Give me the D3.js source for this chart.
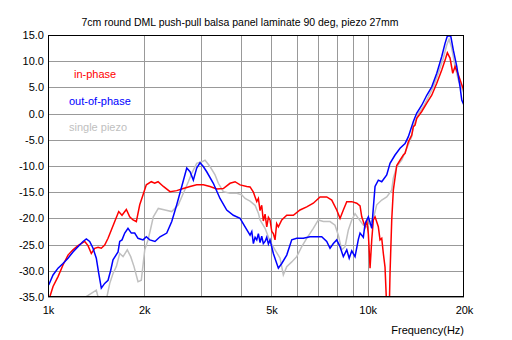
<!DOCTYPE html>
<html><head><meta charset="utf-8">
<script src="https://cdn.jsdelivr.net/npm/d3@7"></script>
<style>body{margin:0;background:#fff}svg{display:block}text{font-family:Arial,"Liberation Sans",sans-serif;}</style>
</head><body><svg id="c" width="512" height="340"></svg>
<script>
const title = "7cm round DML push-pull balsa panel laminate 90 deg, piezo 27mm";
const xTickValues = [1000, 2000, 5000, 10000, 20000];
const xTickLabels = ["1k", "2k", "5k", "10k", "20k"];
const xGridValues = [2000, 3000, 4000, 5000, 6000, 7000, 8000, 9000, 10000];
const yTickValues = [15, 10, 5, 0, -5, -10, -15, -20, -25, -30, -35];
const xLabel = "Frequency(Hz)";
const seriesNames = ["in-phase", "out-of-phase", "single piezo"];

const inPhaseFreq = [1014,1037,1075,1114,1155,1197,1241,1303,1334,1366,1400,1434,1468,1504,1541,1578,1617,1664,1704,1758,1801,1845,1889,1936,1983,2030,2104,2156,2209,2295,2408,2527,2650,2781,2918,3060,3211,3371,3534,3710,3846,3988,4184,4285,4389,4443,4497,4549,4605,4660,4715,4774,4832,4890,4948,5010,5067,5129,5190,5253,5383,5580,5852,6140,6444,6757,7092,7442,7716,7998,8191,8388,8597,8912,9239,9461,9577,9808,9929,10044,10116,10167,10292,10411,10539,10792,10925,11060,11188,11325,11464,11680,11740,11885,12023,12322,12618,12921,13082,13397,13728,13887,14060,14233,14754,15296,15855,16438,17039,17448,17740,18087,18444,18753,19204,19679,20000];
const inPhaseDb = [-34.9,-33.0,-31.1,-28.9,-27.0,-26.0,-25.2,-24.4,-25.2,-26.7,-25.7,-25.5,-25.7,-25.1,-23.8,-22.2,-20.6,-18.7,-19.4,-18.3,-19.7,-20.3,-20.6,-17.4,-15.5,-13.6,-13.0,-13.3,-13.0,-13.9,-14.9,-14.7,-14.3,-13.9,-13.6,-13.6,-13.9,-14.4,-14.3,-13.3,-13.0,-13.6,-13.9,-14.0,-15.0,-15.9,-16.8,-16.2,-18.5,-17.5,-20.5,-19.2,-21.6,-19.8,-20.3,-22.5,-22.9,-24.1,-21.0,-21.6,-20.3,-19.4,-19.4,-18.4,-17.8,-17.1,-15.9,-15.9,-16.5,-18.4,-20.0,-18.4,-16.8,-16.8,-17.1,-17.6,-19.7,-21.6,-20.3,-23.0,-26.7,-29.5,-24.1,-20.3,-19.7,-21.6,-24.1,-23.8,-26.7,-29.3,-37,-37,-30.5,-20.3,-14.6,-9.9,-8.9,-7.9,-7.6,-5.4,-4.1,-2.5,-2.2,-0.9,0.4,2.0,3.5,5.8,8.3,10.2,11.6,10.6,7.7,9.0,7.4,5.5,4.3];

const outPhaseFreq = [1005,1037,1075,1114,1155,1197,1241,1287,1318,1350,1383,1416,1441,1468,1504,1541,1571,1597,1656,1676,1704,1738,1779,1822,1867,1912,1983,2030,2081,2161,2240,2352,2438,2527,2620,2716,2781,2848,2918,2988,3060,3136,3289,3451,3622,3799,3988,4134,4285,4339,4389,4443,4497,4549,4605,4660,4715,4774,4832,4890,4948,5067,5253,5383,5580,5785,5996,6288,6598,6925,7179,7442,7622,7805,7998,8191,8388,8597,8750,8912,9126,9346,9461,9687,9808,10044,10292,10411,10539,10792,11060,11464,11740,12172,12618,13082,13397,13887,14233,14754,15296,15855,16438,17039,17448,17740,18178,18522,18984,19440,19679,20000];
const outPhaseDb = [-32.7,-30.8,-29.5,-28.6,-27.6,-26.4,-25.4,-24.4,-23.9,-24.4,-25.7,-27.6,-30.5,-33.3,-32.4,-31.8,-29.9,-27.9,-26.4,-24.4,-24.1,-22.8,-21.9,-22.8,-22.8,-23.8,-24.1,-23.5,-24.1,-24.4,-23.5,-22.8,-20.6,-17.4,-13.9,-10.4,-11.1,-12.7,-10.4,-9.4,-10.1,-11.1,-13.3,-16.2,-18.4,-19.4,-20.0,-21.6,-23.2,-22.5,-24.8,-23.6,-24.1,-22.9,-24.6,-23.4,-24.8,-24.4,-23.6,-24.9,-24.1,-26.7,-29.5,-28.6,-27.0,-24.1,-23.8,-23.8,-23.5,-23.5,-23.5,-24.4,-25.7,-24.8,-24.1,-25.4,-27.3,-26.0,-27.6,-26.2,-27.3,-24.0,-22.8,-23.6,-21.0,-19.7,-21.9,-18.0,-13.9,-12.7,-13.0,-11.7,-9.5,-7.9,-6.6,-5.7,-4.4,-1.5,0.1,1.6,3.5,5.1,7.7,10.9,13.4,14.8,14.8,12.1,9.0,5.1,2.6,1.6];

const singleFreq = [1300,1318,1366,1416,1441,1522,1560,1597,1636,1676,1717,1770,1814,1858,1912,1958,2007,2055,2085,2135,2213,2323,2438,2556,2650,2747,2815,2918,3025,3098,3211,3330,3410,3534,3710,3894,4037,4134,4285,4443,4549,4605,4774,4948,5129,5318,5445,5580,5785,5996,6216,6444,6757,7006,7262,7622,7901,8091,8292,8492,8697,8912,9126,9346,9687,9929,10167,10411,10668,11060,11464,11885,12023,12322,12773,13243,13728,13887,14398,14925,15473,16038,16628,17236,17662,17958,18309,18753,19204,19679,20000];
const singleDb = [-36,-34.9,-34.3,-33.7,-35.5,-35.5,-32.4,-30.5,-29.2,-26.7,-27.3,-26.0,-27.3,-29.2,-32.1,-31.8,-26.0,-24.1,-22.5,-19.7,-18.1,-18.4,-18.7,-17.4,-15.2,-13.0,-11.4,-9.5,-9.2,-8.9,-10.1,-11.7,-13.3,-14.9,-15.2,-15.2,-15.5,-16.2,-16.7,-17.5,-19.0,-20.3,-21.9,-24.4,-26.0,-27.6,-30.8,-29.2,-28.3,-27.3,-25.4,-23.8,-21.9,-20.3,-20.6,-20.6,-21.3,-23.2,-26.0,-25.4,-22.2,-20.3,-19.1,-20.0,-21.3,-21.6,-21.0,-20.0,-17.4,-16.5,-15.9,-14.6,-12.3,-10.1,-8.9,-6.6,-4.4,-2.5,0.0,1.3,3.2,5.1,7.7,10.6,13.1,14.2,12.5,9.0,6.4,4.8,3.9];

const svg = d3.select("#c");
const L = 48, R = 464, T = 35, B = 297;
const x = d3.scaleLog().domain([1000, 20000]).range([L, R]);
const y = d3.scaleLinear().domain([-35, 15]).range([B, T]);

// grid
const g = svg.append("g");
g.selectAll(".hg").data(yTickValues).join("line")
  .attr("x1", L).attr("x2", R).attr("y1", d => Math.round(y(d)) + 0.5).attr("y2", d => Math.round(y(d)) + 0.5)
  .attr("stroke", "#999").attr("stroke-width", 1);
g.selectAll(".vg").data(xGridValues).join("line")
  .attr("y1", T).attr("y2", B).attr("x1", d => Math.round(x(d)) + 0.5).attr("x2", d => Math.round(x(d)) + 0.5)
  .attr("stroke", "#999").attr("stroke-width", 1);

// clip
svg.append("clipPath").attr("id", "clip").append("rect").attr("x", L).attr("y", T).attr("width", R - L).attr("height", B - T);

const line = d3.line().x(d => x(d[0])).y(d => y(d[1]));
const series = [
  {f: singleFreq, v: singleDb, color: "#c0c0c0"},
  {f: inPhaseFreq, v: inPhaseDb, color: "#ff0000"},
  {f: outPhaseFreq, v: outPhaseDb, color: "#0000ff"}
];
const lg = svg.append("g").attr("clip-path", "url(#clip)");
series.forEach(s => {
  lg.append("path").datum(s.f.map((f, i) => [f, s.v[i]]))
    .attr("d", line).attr("fill", "none").attr("stroke", s.color).attr("stroke-width", 1.5)
    .attr("stroke-linejoin", "miter");
});

// frame
svg.append("rect").attr("x", L + 0.5).attr("y", T + 0.5).attr("width", R - L - 1).attr("height", B - T - 1)
  .attr("fill", "none").attr("stroke", "#000").attr("stroke-width", 1);

// y axis labels
const yAxis = d3.axisLeft(y).tickValues(yTickValues).tickFormat(d => d.toFixed(1)).tickSize(0).tickPadding(4);
const ya = svg.append("g").attr("transform", `translate(${L},0)`).call(yAxis);
ya.select(".domain").remove();
ya.selectAll("text").attr("font-size", 11).attr("fill", "#000").attr("font-family", "Arial, 'Liberation Sans', sans-serif");

// x axis labels
const xAxis = d3.axisBottom(x).tickValues(xTickValues).tickFormat((d, i) => xTickLabels[i]).tickSize(0).tickPadding(9);
const xa = svg.append("g").attr("transform", `translate(0,${B})`).call(xAxis);
xa.select(".domain").remove();
xa.selectAll("text").attr("font-size", 11).attr("fill", "#000").attr("font-family", "Arial, 'Liberation Sans', sans-serif");

svg.append("text").attr("x", R).attr("y", 334).attr("text-anchor", "end").attr("font-size", 11).text(xLabel);
svg.append("text").attr("x", 240).attr("y", 26).attr("text-anchor", "middle").attr("font-size", 10.5).text(title);

// legend
const legendColors = ["#ff0000", "#0000ff", "#c0c0c0"];
const legendX = [74, 69, 69];
const legendY = [78, 105, 131];
seriesNames.forEach((n, i) => {
  svg.append("text").attr("x", legendX[i]).attr("y", legendY[i]).attr("font-size", 11).attr("fill", legendColors[i]).text(n);
});
</script></body></html>
